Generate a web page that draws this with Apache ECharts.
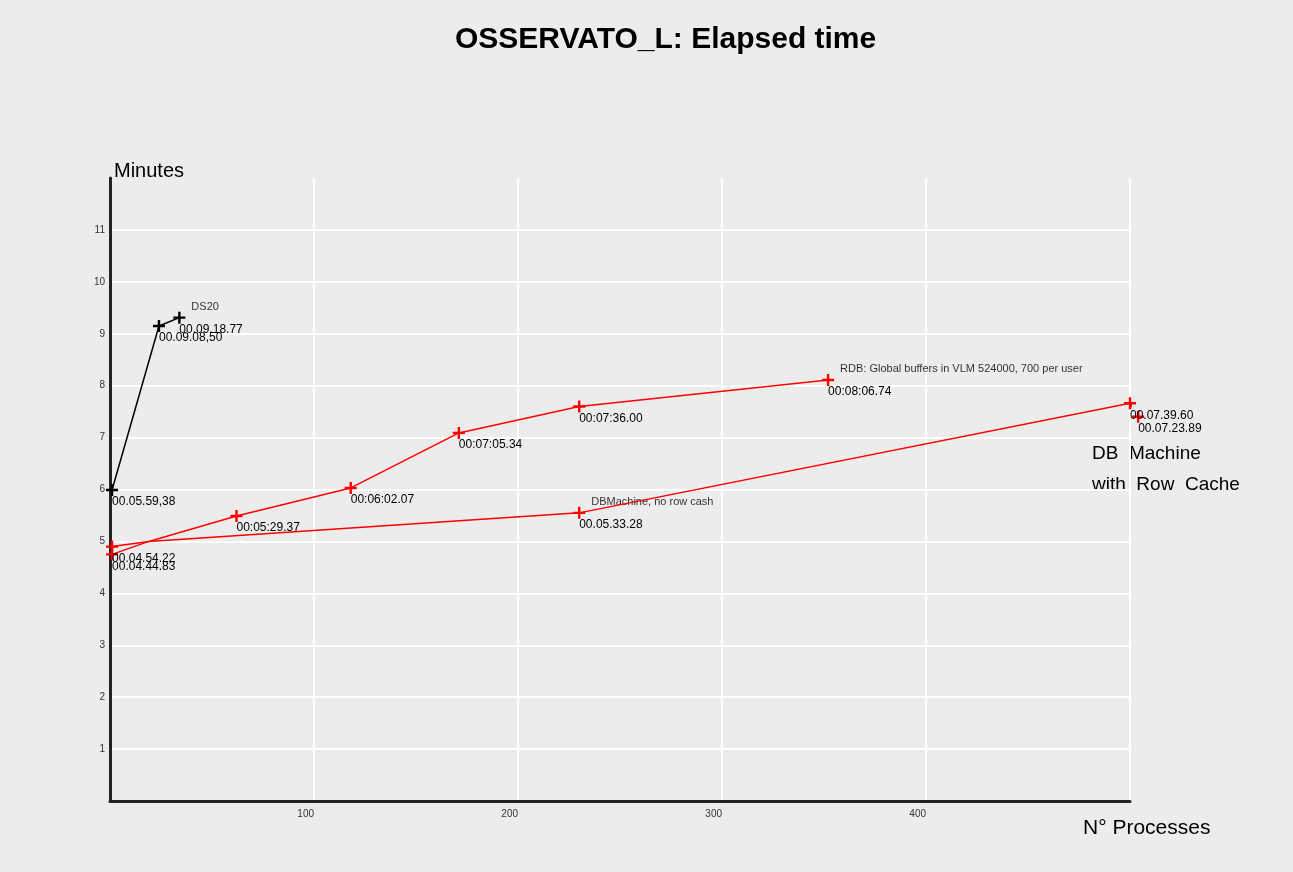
<!DOCTYPE html>
<html>
<head>
<meta charset="utf-8">
<script src="https://cdn.jsdelivr.net/npm/echarts@6/dist/echarts.min.js"></script>
<style>
html, body { margin: 0; padding: 0; background: #ececec; }
#chart { width: 1293px; height: 872px; }
</style>
</head>
<body>
<div id="chart"></div>
<script>
// DS20 (black)
var ds20X = [1, 24, 34];
var ds20Y = [5.99, 9.15, 9.31];
var ds20Lbl = ['00.05.59,38', '00.09.08,50', '00.09.18.77'];

// RDB global buffers (red, upper)
var rdbX = [1, 19, 62, 118, 171, 230, 352];
var rdbY = [4.90, 5.0, 5.49, 6.03, 7.09, 7.60, 8.11];
var rdbLbl = ['00.04.54.22', '', '00:05:29.37', '00:06:02.07', '00:07:05.34', '00:07:36.00', '00:08:06.74'];

// DBMachine (red, lower)
var dbX = [1, 19, 230, 500, 504];
var dbY = [4.75, 5.0, 5.55, 7.66, 7.40];
var dbLbl = ['00.04.44.83', '', '00.05.33.28', '00.07.39.60', '00.07.23.89'];

// notes next to the series
var noteX = [34, 352, 230];
var noteY = [9.31, 8.11, 5.55];
var noteText = ['DS20', 'RDB: Global buffers in VLM 524000, 700 per user', 'DBMachine, no row cash'];

var xTicks = [0, 100, 200, 300, 400, 500];
var yTicks = [0, 1, 2, 3, 4, 5, 6, 7, 8, 9, 10, 11, 12];

var cross = 'path://M4,0H6V4H10V6H6V10H4V6H0V4H4Z';
var font = 'Liberation Sans, Arial, sans-serif';

function pts(xs, ys, lbls) {
    var out = [];
    for (var i = 0; i < xs.length; i++) {
        var d = { value: [xs[i], ys[i]], name: lbls[i] };
        if (lbls[i] === '') {
            d.symbolSize = 0;
            d.label = { show: false };
        }
        out.push(d);
    }
    return out;
}

function lineSeries(name, color, data) {
    return {
        name: name,
        type: 'line',
        data: data,
        symbol: cross,
        symbolSize: 12,
        clip: false,
        color: color,
        lineStyle: { color: color, width: 1.5 },
        itemStyle: { color: color },
        label: {
            show: true,
            position: 'bottom',
            distance: 0,
            align: 'left',
            color: '#000',
            fontSize: 12,
            fontFamily: font,
            formatter: function (p) { return p.name; }
        },
        z: 3
    };
}

var notes = [];
for (var i = 0; i < noteX.length; i++) notes.push({ value: [noteX[i], noteY[i]], name: noteText[i] });

// white grid lines, top one hidden
var yGridColors = yTicks.map(function (v, i) { return i === yTicks.length - 1 ? 'rgba(0,0,0,0)' : '#ffffff'; });

var option = {
    backgroundColor: '#ececec',
    animation: false,
    title: {
        text: 'OSSERVATO_L: Elapsed time',
        left: 450,
        top: 20,
        textStyle: { fontSize: 30, fontWeight: 'bold', color: '#000', fontFamily: font }
    },
    grid: { left: 110, right: 163, top: 178, bottom: 71 },
    xAxis: {
        type: 'value',
        min: xTicks[0],
        max: xTicks[xTicks.length - 1],
        interval: 100,
        axisLine: { lineStyle: { color: '#222', width: 3 } },
        axisTick: { show: false },
        axisLabel: {
            color: '#333', fontSize: 10, fontFamily: font, align: 'right', margin: 8,
            formatter: function (v) { return (v === 0 || v === 500) ? '' : v; }
        },
        splitLine: { show: true, lineStyle: { color: '#ffffff', width: 2 } }
    },
    yAxis: {
        type: 'value',
        min: yTicks[0],
        max: yTicks[yTicks.length - 1],
        interval: 1,
        name: 'Minutes',
        nameLocation: 'end',
        nameGap: -3,
        nameTextStyle: { align: 'left', verticalAlign: 'bottom', fontSize: 20, color: '#000', fontFamily: font, padding: [0, 0, 0, 4] },
        axisLine: { show: true, lineStyle: { color: '#222', width: 3 } },
        axisTick: { show: false },
        axisLabel: {
            color: '#333', fontSize: 10, fontFamily: font, margin: 5,
            formatter: function (v) { return (v === 0 || v === 12) ? '' : v; }
        },
        splitLine: { show: true, lineStyle: { color: yGridColors, width: 2 } }
    },
    graphic: [
        { type: 'text', left: 1083, top: 818, style: { text: 'N° Processes', fontSize: 21, fill: '#000', fontFamily: font } },
        { type: 'text', left: 1092, top: 444, style: { text: 'DB  Machine', fontSize: 19, fill: '#000', fontFamily: font } },
        { type: 'text', left: 1092, top: 475, style: { text: 'with  Row  Cache', fontSize: 19, fill: '#000', fontFamily: font } }
    ],
    series: [
        lineSeries('DBMachine', '#ff0000', pts(dbX, dbY, dbLbl)),
        lineSeries('RDB', '#ff0000', pts(rdbX, rdbY, rdbLbl)),
        lineSeries('DS20', '#000000', pts(ds20X, ds20Y, ds20Lbl)),
        {
            name: 'notes',
            type: 'scatter',
            data: notes,
            symbolSize: 0,
            clip: false,
            label: {
                show: true,
                position: 'top',
                distance: 5,
                align: 'left',
                offset: [12, 0],
                color: '#000',
                fontSize: 11,
                fontFamily: font,
                formatter: function (p) { return p.name; }
            }
        }
    ]
};

var chart = echarts.init(document.getElementById('chart'));
chart.setOption(option);
window.onresize = function () { chart.resize(); };
</script>
</body>
</html>
